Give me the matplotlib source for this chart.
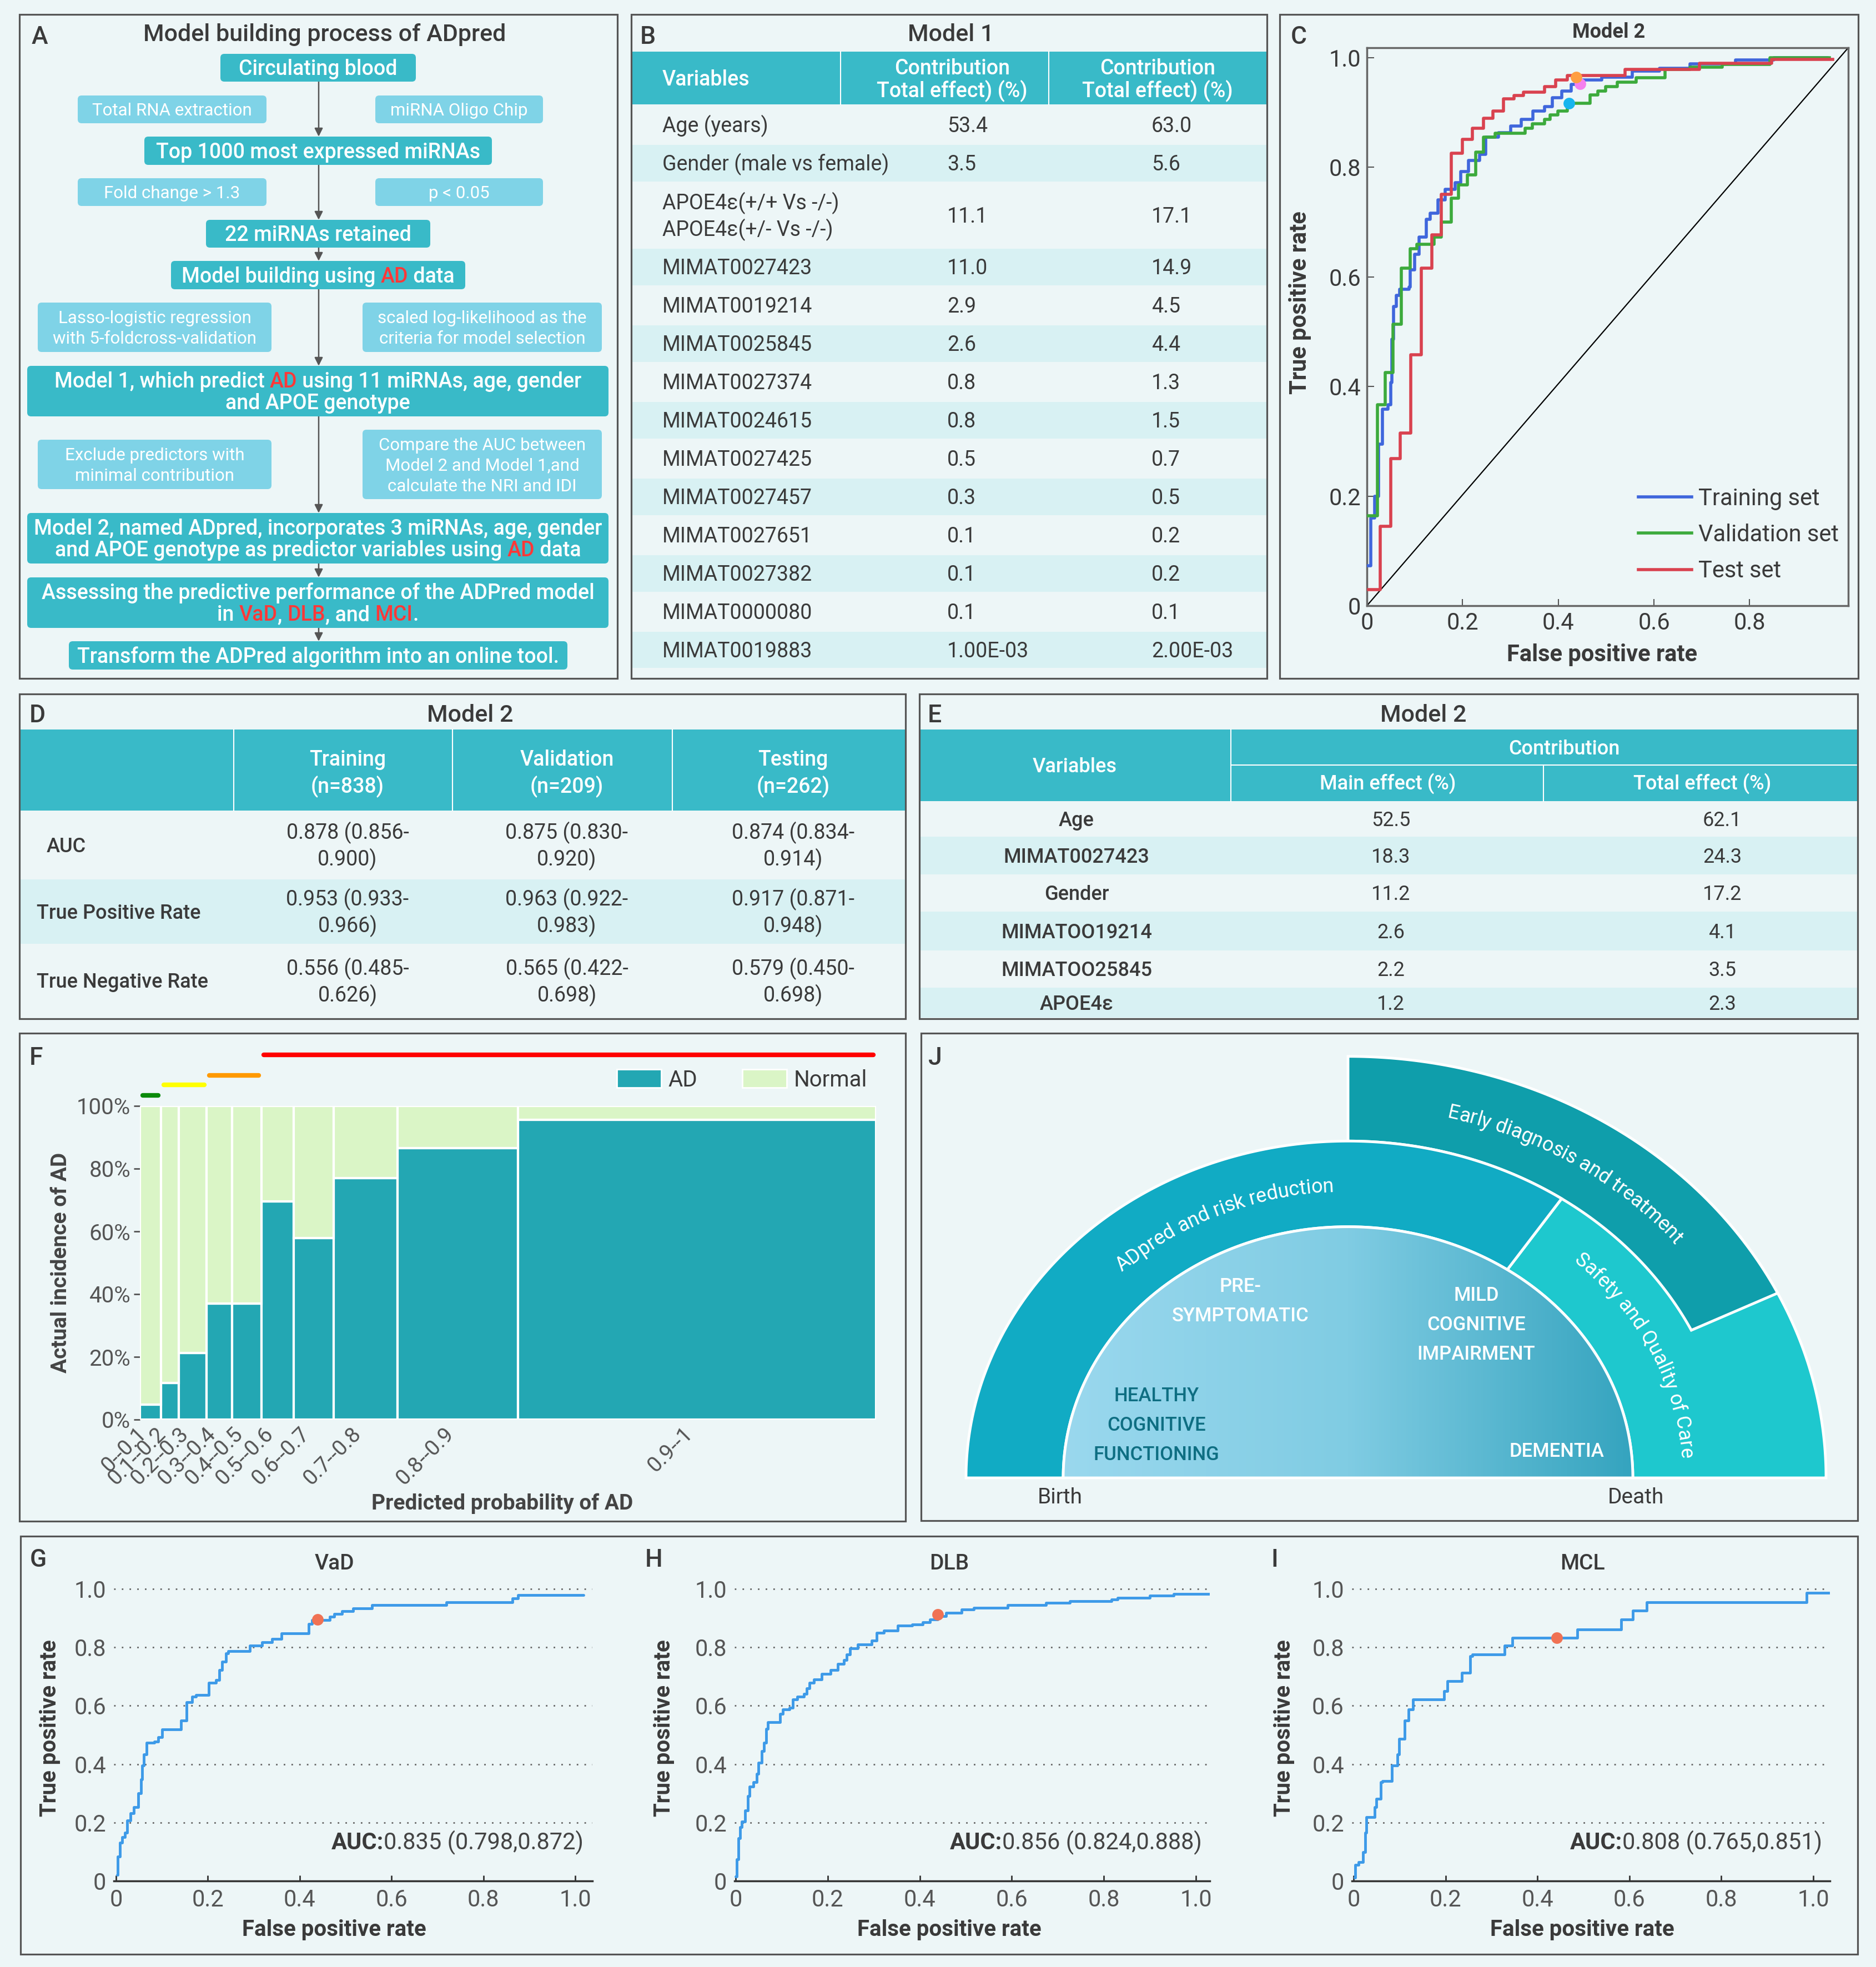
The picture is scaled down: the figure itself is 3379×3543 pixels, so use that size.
import re
import numpy as np
import matplotlib
matplotlib.use('Agg')
import matplotlib.pyplot as plt
from matplotlib.patches import Rectangle, FancyBboxPatch, Polygon, Patch
from matplotlib.colors import LinearSegmentedColormap
from matplotlib.transforms import ScaledTranslation

# ============================ DATA ============================
A_TITLE = 'Model building process of ADpred'
A_STEPS = [
    'Circulating blood',
    'Top 1000 most expressed miRNAs',
    '22 miRNAs retained',
    'Model building using [AD] data',
    'Model 1, which predict [AD] using 11 miRNAs, age, gender\nand APOE genotype',
    'Model 2, named ADpred, incorporates 3 miRNAs, age, gender\nand APOE genotype as predictor variables using [AD] data',
    'Assessing the predictive performance of the ADPred model\nin [VaD], [DLB], and [MCI].',
    'Transform the ADPred algorithm into an online tool.',
]
A_NOTES_LEFT = ['Total RNA extraction', 'Fold change > 1.3',
                'Lasso-logistic regression\nwith 5-foldcross-validation',
                'Exclude predictors with\nminimal contribution']
A_NOTES_RIGHT = ['miRNA Oligo Chip', 'p < 0.05',
                 'scaled log-likelihood as the\ncriteria for model selection',
                 'Compare the AUC between\nModel 2 and Model 1,and\ncalculate the NRI and IDI']

B_TITLE = 'Model 1'
B_HEADERS = ['Variables', 'Contribution\nTotal effect) (%)', 'Contribution\nTotal effect) (%)']
B_VARIABLES = ['Age (years)', 'Gender (male vs female)', 'APOE4ε(+/+ Vs -/-)\nAPOE4ε(+/- Vs -/-)',
               'MIMAT0027423', 'MIMAT0019214', 'MIMAT0025845', 'MIMAT0027374', 'MIMAT0024615',
               'MIMAT0027425', 'MIMAT0027457', 'MIMAT0027651', 'MIMAT0027382', 'MIMAT0000080',
               'MIMAT0019883']
B_EFFECT_1 = ['53.4', '3.5', '11.1', '11.0', '2.9', '2.6', '0.8', '0.8', '0.5', '0.3', '0.1', '0.1',
              '0.1', '1.00E-03']
B_EFFECT_2 = ['63.0', '5.6', '17.1', '14.9', '4.5', '4.4', '1.3', '1.5', '0.7', '0.5', '0.2', '0.2',
              '0.1', '2.00E-03']

C_TITLE = 'Model 2'
C_TRAIN_FPR = [0.002, 0.008, 0.016, 0.024, 0.032, 0.044, 0.05, 0.052, 0.056, 0.062, 0.068, 0.088, 0.09,
               0.1, 0.109, 0.124, 0.132, 0.148, 0.164, 0.184, 0.196, 0.212, 0.236, 0.248, 0.275, 0.3,
               0.323, 0.347, 0.371, 0.387, 0.407, 0.427, 0.451, 0.491, 0.555, 0.611, 0.675, 0.77, 0.85,
               0.962]
C_TRAIN_TPR = [0.073, 0.16, 0.2, 0.295, 0.359, 0.367, 0.407, 0.486, 0.546, 0.566, 0.577, 0.581, 0.613,
               0.641, 0.673, 0.705, 0.716, 0.74, 0.76, 0.772, 0.792, 0.812, 0.824, 0.855, 0.863, 0.875,
               0.887, 0.903, 0.911, 0.927, 0.939, 0.951, 0.959, 0.964, 0.975, 0.981, 0.989, 0.996, 1.0,
               1.0]
C_VAL_FPR = [0.0, 0.022, 0.038, 0.054, 0.072, 0.09, 0.105, 0.14, 0.156, 0.176, 0.192, 0.21, 0.228,
             0.244, 0.268, 0.314, 0.331, 0.346, 0.371, 0.383, 0.399, 0.419, 0.467, 0.483, 0.499, 0.523,
             0.563, 0.623, 0.675, 0.743, 0.842, 0.966]
C_VAL_TPR = [0.164, 0.367, 0.425, 0.514, 0.616, 0.651, 0.659, 0.673, 0.7, 0.744, 0.768, 0.786, 0.828,
             0.855, 0.862, 0.862, 0.871, 0.879, 0.887, 0.895, 0.903, 0.917, 0.932, 0.939, 0.947, 0.955,
             0.963, 0.979, 0.983, 0.988, 1.0, 1.0]
C_TEST_FPR = [0.004, 0.028, 0.05, 0.07, 0.092, 0.114, 0.136, 0.156, 0.176, 0.199, 0.221, 0.244, 0.263,
              0.285, 0.307, 0.327, 0.371, 0.395, 0.419, 0.539, 0.695, 0.846, 0.974]
C_TEST_TPR = [0.029, 0.145, 0.268, 0.315, 0.458, 0.616, 0.677, 0.751, 0.826, 0.851, 0.871, 0.889, 0.903,
              0.925, 0.931, 0.937, 0.947, 0.959, 0.967, 0.979, 0.99, 0.997, 0.997]
C_LABELS = ['Training set', 'Validation set', 'Test set']
C_CUTOFFS = [(0.445, 0.952), (0.422, 0.917), (0.437, 0.964)]   # train, validation, test

D_TITLE = 'Model 2'
D_COLUMNS = ['Training\n(n=838)', 'Validation\n(n=209)', 'Testing\n(n=262)']
D_ROWS = ['AUC', 'True Positive Rate', 'True Negative Rate']
D_VALUES = [['0.878 (0.856-\n0.900)', '0.875 (0.830-\n0.920)', '0.874 (0.834-\n0.914)'],
            ['0.953 (0.933-\n0.966)', '0.963 (0.922-\n0.983)', '0.917 (0.871-\n0.948)'],
            ['0.556 (0.485-\n0.626)', '0.565 (0.422-\n0.698)', '0.579 (0.450-\n0.698)']]

E_TITLE = 'Model 2'
E_VARIABLES = ['Age', 'MIMAT0027423', 'Gender', 'MIMATOO19214', 'MIMATOO25845', 'APOE4ε']
E_MAIN = ['52.5', '18.3', '11.2', '2.6', '2.2', '1.2']
E_TOTAL = ['62.1', '24.3', '17.2', '4.1', '3.5', '2.3']

F_BINS = ['0--0.1', '0.1--0.2', '0.2--0.3', '0.3--0.4', '0.4--0.5', '0.5--0.6', '0.6--0.7',
          '0.7--0.8', '0.8--0.9', '0.9--1']
F_COUNTS = [24, 20, 32, 29, 33, 37, 45, 73, 137, 407]
F_AD_RATE = [0.048, 0.116, 0.213, 0.37, 0.37, 0.695, 0.579, 0.77, 0.866, 0.955]
F_RISK_GROUPS = [(0, 1), (1, 3), (3, 5), (5, 10)]   # bin index ranges of the risk bars

J_RINGS = ['ADpred and risk reduction', 'Early diagnosis and treatment', 'Safety and Quality of Care']
J_STAGES = ['HEALTHY\nCOGNITIVE\nFUNCTIONING', 'PRE-\nSYMPTOMATIC', 'MILD\nCOGNITIVE\nIMPAIRMENT', 'DEMENTIA']

G_FPR = [0.002, 0.004, 0.009, 0.013, 0.019, 0.024, 0.031, 0.039, 0.048, 0.054, 0.057, 0.061, 0.067,
         0.083, 0.092, 0.1, 0.135, 0.141, 0.153, 0.166, 0.174, 0.199, 0.202, 0.218, 0.225, 0.231, 0.24,
         0.244, 0.288, 0.292, 0.318, 0.34, 0.36, 0.414, 0.42, 0.427, 0.466, 0.475, 0.492, 0.516, 0.558,
         0.719, 0.863, 0.876, 1.018]
G_TPR = [0.021, 0.084, 0.132, 0.151, 0.165, 0.208, 0.232, 0.252, 0.3, 0.348, 0.396, 0.434, 0.473,
         0.477, 0.492, 0.519, 0.519, 0.549, 0.612, 0.631, 0.636, 0.636, 0.679, 0.689, 0.722, 0.751, 0.78,
         0.787, 0.787, 0.807, 0.818, 0.828, 0.847, 0.847, 0.881, 0.893, 0.905, 0.914, 0.924, 0.934, 0.945,
         0.955, 0.967, 0.979, 0.979]
G_CUT = (0.439, 0.895)
G_AUC = '0.835 (0.798,0.872)'

H_FPR = [0.0, 0.003, 0.006, 0.01, 0.013, 0.02, 0.026, 0.03, 0.039, 0.046, 0.05, 0.057, 0.061, 0.066,
         0.07, 0.091, 0.096, 0.103, 0.117, 0.124, 0.134, 0.148, 0.155, 0.161, 0.17, 0.187, 0.206, 0.222,
         0.235, 0.241, 0.248, 0.265, 0.296, 0.306, 0.322, 0.352, 0.383, 0.406, 0.422, 0.439, 0.457,
         0.491, 0.517, 0.591, 0.674, 0.726, 0.817, 0.83, 0.9, 0.952, 1.041]
H_TPR = [0.016, 0.074, 0.146, 0.184, 0.204, 0.242, 0.29, 0.324, 0.338, 0.367, 0.405, 0.444, 0.473,
         0.521, 0.543, 0.543, 0.573, 0.588, 0.593, 0.622, 0.631, 0.641, 0.66, 0.679, 0.691, 0.71, 0.722,
         0.744, 0.756, 0.775, 0.796, 0.809, 0.823, 0.849, 0.857, 0.874, 0.879, 0.886, 0.895, 0.907,
         0.919, 0.929, 0.936, 0.945, 0.953, 0.958, 0.963, 0.97, 0.977, 0.982, 0.982]
H_CUT = (0.439, 0.912)
H_AUC = '0.856 (0.824,0.888)'

I_FPR = [0.002, 0.004, 0.011, 0.021, 0.025, 0.028, 0.046, 0.05, 0.059, 0.063, 0.083, 0.095, 0.099,
         0.111, 0.12, 0.129, 0.197, 0.204, 0.235, 0.254, 0.259, 0.329, 0.346, 0.487, 0.582, 0.607,
         0.638, 0.986, 1.037]
I_TPR = [0.012, 0.055, 0.064, 0.098, 0.165, 0.218, 0.252, 0.281, 0.338, 0.343, 0.396, 0.434, 0.487,
         0.549, 0.588, 0.622, 0.65, 0.684, 0.713, 0.77, 0.775, 0.807, 0.833, 0.862, 0.895, 0.926, 0.955,
         0.987, 0.987]
I_CUT = (0.442, 0.833)
I_AUC = '0.808 (0.765,0.851)'

ROC_TICKS = [0, 0.2, 0.4, 0.6, 0.8, 1.0]
ROC_TICK_LABELS = ['0', '0.2', '0.4', '0.6', '0.8', '1.0']

# ============================ STYLE ============================
BG = '#EDF6F7'
TINT = '#D8F1F3'
TEAL = '#39BAC8'
LIGHT = '#7FD3E7'
DARK = '#3A3A3A'
GRAY = '#555555'
BORDER = '#555555'
RED = '#FF3838'
PT = 100 / 72.0

plt.rcParams['font.family'] = ['Roboto', 'DejaVu Sans']

W, H = 3379, 3543
fig = plt.figure(figsize=(W / 100, H / 100), dpi=100)
fig.patch.set_facecolor(BG)
base = fig.add_axes([0, 0, 1, 1])
base.set_xlim(0, W)
base.set_ylim(H, 0)
base.axis('off')
R = fig.canvas.get_renderer()


def px_axes(x0, y0, x1, y1):
    ax = fig.add_axes([x0 / W, 1 - y1 / H, (x1 - x0) / W, (y1 - y0) / H])
    ax.set_facecolor('none')
    return ax


_wc = {}


def text_w(s, size, weight='normal'):
    key = (s, size, weight)
    if key not in _wc:
        t1 = base.text(0, 0, '|' + s + '|', fontsize=size, fontweight=weight)
        t2 = base.text(0, 0, '||', fontsize=size, fontweight=weight)
        _wc[key] = t1.get_window_extent(R).width - t2.get_window_extent(R).width
        t1.remove()
        t2.remove()
    return _wc[key]


def baseline(cy, size):
    return cy + 0.355 * size * PT


def rich_line(x, cy, parts, size, ha='center', z=5):
    y = baseline(cy, size)
    if len(parts) == 1:
        s, c, wgt = parts[0]
        base.text(x, y, s, color=c, fontsize=size, fontweight=wgt, ha=ha, va='baseline', zorder=z)
        return
    widths = [text_w(s, size, wgt) for s, c, wgt in parts]
    tot = sum(widths)
    cur = x - tot / 2 if ha == 'center' else (x - tot if ha == 'right' else x)
    for (s, c, wgt), w in zip(parts, widths):
        base.text(cur, y, s, color=c, fontsize=size, fontweight=wgt, ha='left', va='baseline', zorder=z)
        cur += w


def parse(line, color, weight, hi=RED):
    parts = []
    for tok in re.split(r'(\[[^\]]*\])', line):
        if not tok:
            continue
        if tok.startswith('['):
            parts.append((tok[1:-1], hi, weight))
        else:
            parts.append((tok, color, weight))
    return parts


def text_lines(x, cy, text, size, color=DARK, weight='normal', spacing=None, ha='center'):
    lines = text.split('\n')
    n = len(lines)
    if spacing is None:
        spacing = size * PT * 1.3
    for i, l in enumerate(lines):
        rich_line(x, cy + (i - (n - 1) / 2) * spacing, parse(l, color, weight), size, ha=ha)


def border(x0, y0, x1, y1):
    base.add_patch(Rectangle((x0, y0), x1 - x0, y1 - y0, fill=False, ec=BORDER, lw=2.3, zorder=10))


def letter(s, x, cy):
    base.text(x, baseline(cy, 32), s, fontsize=32, fontweight='medium', color=DARK, ha='left',
              va='baseline')


def rect(x0, y0, x1, y1, color, z=1):
    base.add_patch(Rectangle((x0, y0), x1 - x0, y1 - y0, fc=color, ec='none', zorder=z))


# ============================ PANEL A ============================
border(35, 26, 1112, 1222)
letter('A', 57, 63)
text_lines(585, 59, A_TITLE, 31, DARK, 'medium')
MAIN_BOXES = [(397, 97, 749, 147), (260, 246, 886, 297), (371, 396, 775, 446), (308, 470, 838, 521),
              (49, 659, 1096, 750), (49, 924, 1096, 1015), (49, 1040, 1096, 1131), (124, 1155, 1022, 1206)]
LEFT_BOXES = [(140, 172, 480, 222), (140, 321, 480, 371), (68, 545, 489, 634), (68, 792, 489, 881)]
RIGHT_BOXES = [(676, 172, 978, 222), (676, 321, 978, 371), (653, 545, 1084, 634), (653, 774, 1084, 899)]
AX_X = 574
for i in range(len(MAIN_BOXES) - 1):
    base.annotate('', xy=(AX_X, MAIN_BOXES[i + 1][1]), xytext=(AX_X, MAIN_BOXES[i][3]),
                  arrowprops=dict(arrowstyle='-|>', color='#555555', lw=1.8, mutation_scale=22,
                                  shrinkA=0, shrinkB=0), zorder=1)
for (x0, y0, x1, y1), txt in zip(MAIN_BOXES, A_STEPS):
    base.add_patch(FancyBboxPatch((x0, y0), x1 - x0, y1 - y0, boxstyle='round,pad=0,rounding_size=7',
                                  fc=TEAL, ec='none', zorder=2))
    text_lines((x0 + x1) / 2, (y0 + y1) / 2, txt, 27, 'white', 'medium', spacing=39)
for boxes, notes in ((LEFT_BOXES, A_NOTES_LEFT), (RIGHT_BOXES, A_NOTES_RIGHT)):
    for (x0, y0, x1, y1), txt in zip(boxes, notes):
        base.add_patch(FancyBboxPatch((x0, y0), x1 - x0, y1 - y0, boxstyle='round,pad=0,rounding_size=7',
                                      fc=LIGHT, ec='none', zorder=2))
        text_lines((x0 + x1) / 2, (y0 + y1) / 2, txt, 22.5, 'white', 'normal', spacing=37)

# ============================ PANEL B ============================
border(1137, 26, 2282, 1222)
letter('B', 1153, 63)
text_lines(1713, 59, B_TITLE, 31, DARK, 'medium')
rect(1138, 93, 2281, 188, TEAL)
for xv in (1514, 1889):
    base.plot([xv, xv], [93, 188], color='white', lw=1.5, zorder=2)
text_lines(1193, 141, B_HEADERS[0], 27, 'white', 'medium', ha='left')
text_lines(1715, 141, B_HEADERS[1], 27, 'white', 'medium', spacing=40)
text_lines(2085, 141, B_HEADERS[2], 27, 'white', 'medium', spacing=40)
B_ROW_Y = [188, 261, 327, 448, 514, 586, 652, 724, 790, 862, 928, 1000, 1066, 1138, 1203]
for i, (var, v1, v2) in enumerate(zip(B_VARIABLES, B_EFFECT_1, B_EFFECT_2)):
    y0, y1 = B_ROW_Y[i], B_ROW_Y[i + 1]
    if i % 2 == 1:
        rect(1138, y0, 2281, y1, TINT)
    cy = (y0 + y1) / 2
    text_lines(1193, cy, var, 27, DARK, 'normal', spacing=48, ha='left')
    text_lines(1706, cy, v1, 27, DARK, ha='left')
    text_lines(2074, cy, v2, 27, DARK, ha='left')

# ============================ PANEL C ============================
border(2305, 26, 3347, 1222)
letter('C', 2325, 63)
text_lines(2898, 55, C_TITLE, 26, DARK, 'bold')
axC = px_axes(2462, 86, 3329, 1091)
c_colors = ['#3F66DC', '#3CAA3C', '#D9424F']
for fpr, tpr, col, lab in ((C_TRAIN_FPR, C_TRAIN_TPR, c_colors[0], C_LABELS[0]),
                           (C_VAL_FPR, C_VAL_TPR, c_colors[1], C_LABELS[1]),
                           (C_TEST_FPR, C_TEST_TPR, c_colors[2], C_LABELS[2])):
    axC.plot(fpr, tpr, drawstyle='steps-post', color=col, lw=4, label=lab, zorder=3)
axC.plot([0, 1], [0, 1], transform=axC.transAxes, color='black', lw=1.6, zorder=2)
for (cx, cy), mc in zip(C_CUTOFFS, ['#F57FEE', '#17B5EE', '#FF9E42']):
    axC.plot(cx, cy, 'o', color=mc, ms=15, zorder=5, mec='none')
axC.set_xlim(0, 1.006)
axC.set_ylim(0, 1.018)
axC.set_xticks(ROC_TICKS[:-1])
axC.set_xticklabels(ROC_TICK_LABELS[:-1])
axC.set_yticks(ROC_TICKS)
axC.set_yticklabels(ROC_TICK_LABELS)
axC.tick_params(direction='in', length=9, width=1.5, color=GRAY, labelsize=30, labelcolor=DARK, pad=8)
for sp in axC.spines.values():
    sp.set_color('#666666')
    sp.set_linewidth(2.5)
axC.legend(loc='lower right', bbox_to_anchor=(1.0, 0.025), frameon=False, fontsize=30,
           handlelength=2.3, handletextpad=0.3, labelspacing=0.58, borderaxespad=0,
           labelcolor=DARK)
base.text(2342, 545, 'True positive rate', rotation=90, ha='center', va='center', fontsize=30,
          fontweight='bold', color=DARK)
text_lines(2885, 1176, 'False positive rate', 30, DARK, 'bold')

# ============================ PANEL D ============================
border(35, 1250, 1631, 1835)
letter('D', 53, 1285)
text_lines(847, 1285, D_TITLE, 31, DARK, 'medium')
rect(36, 1314, 1630, 1460, TEAL)
D_COL_X = [36, 421, 815, 1211, 1630]
for xv in D_COL_X[1:-1]:
    base.plot([xv, xv], [1314, 1460], color='white', lw=1.5, zorder=2)
for j, col in enumerate(D_COLUMNS):
    text_lines((D_COL_X[j + 1] + D_COL_X[j + 2]) / 2 + 8, 1390, col, 27, 'white', 'medium', spacing=48)
D_ROW_Y = [1460, 1584, 1700, 1833]
for i, (lab, vals) in enumerate(zip(D_ROWS, D_VALUES)):
    y0, y1 = D_ROW_Y[i], D_ROW_Y[i + 1]
    if i % 2 == 1:
        rect(36, y0, 1630, y1, TINT)
    cy = (y0 + y1) / 2
    text_lines(84 if i == 0 else 66, cy, lab, 26, DARK, 'medium', ha='left')
    for j, v in enumerate(vals):
        text_lines((D_COL_X[j + 1] + D_COL_X[j + 2]) / 2 + 8, cy, v, 27, DARK, spacing=48)

# ============================ PANEL E ============================
border(1656, 1250, 3346, 1835)
letter('E', 1671, 1285)
text_lines(2564, 1285, E_TITLE, 31, DARK, 'medium')
rect(1657, 1314, 3345, 1443, TEAL)
base.plot([2217, 2217], [1314, 1443], color='white', lw=1.5, zorder=2)
base.plot([2217, 3345], [1378, 1378], color='white', lw=1.5, zorder=2)
base.plot([2780, 2780], [1378, 1443], color='white', lw=1.5, zorder=2)
text_lines(1936, 1378, 'Variables', 26, 'white', 'medium')
text_lines(2817, 1346, 'Contribution', 26, 'white', 'medium')
text_lines(2500, 1410, 'Main effect (%)', 26, 'white', 'medium')
text_lines(3066, 1410, 'Total effect (%)', 26, 'white', 'medium')
E_ROW_Y = [1443, 1507, 1575, 1642, 1712, 1779, 1833]
for i, (var, m, t) in enumerate(zip(E_VARIABLES, E_MAIN, E_TOTAL)):
    y0, y1 = E_ROW_Y[i], E_ROW_Y[i + 1]
    if i % 2 == 1:
        rect(1657, y0, 3345, y1, TINT)
    cy = (y0 + y1) / 2
    text_lines(1939, cy, var, 26, DARK, 'medium')
    text_lines(2505, cy, m, 26, DARK)
    text_lines(3102, cy, t, 26, DARK)

# ============================ PANEL F ============================
border(35, 1861, 1631, 2740)
letter('F', 53, 1902)
axF = px_axes(252, 1992, 1578, 2557)
counts = np.array(F_COUNTS, dtype=float)
rate = np.array(F_AD_RATE)
lefts = np.concatenate([[0], np.cumsum(counts)[:-1]])
centers = lefts + counts / 2
AD_C, N_C = '#23A7B3', '#DAF5C6'
axF.bar(lefts, rate, width=counts, align='edge', color=AD_C, edgecolor='white', linewidth=3,
        label='AD', zorder=2)
axF.bar(lefts, 1 - rate, bottom=rate, width=counts, align='edge', color=N_C, edgecolor='white',
        linewidth=3, label='Normal', zorder=2)
axF.set_xlim(0, counts.sum())
axF.set_ylim(0, 1)
axF.set_xticks(centers)
axF.set_xticklabels([])
lab_tr = axF.get_xaxis_transform() + ScaledTranslation(-0.26, 0, fig.dpi_scale_trans)
for c, lab in zip(centers, F_BINS):
    axF.text(c, -0.012, lab, transform=lab_tr, rotation=45, rotation_mode='anchor', ha='right',
             va='top', fontsize=28, color=GRAY, clip_on=False)
axF.set_yticks([0, 0.2, 0.4, 0.6, 0.8, 1.0])
axF.set_yticklabels(['0%', '20%', '40%', '60%', '80%', '100%'])
axF.tick_params(axis='x', length=0)
axF.tick_params(axis='y', length=8, width=2, color=GRAY, labelsize=29, labelcolor=GRAY, pad=4)
for sp in axF.spines.values():
    sp.set_visible(False)
risk_colors = ['#0A8A0A', '#FFFF00', '#FF9900', '#FF0000']
risk_y = [1.034, 1.067, 1.097, 1.163]
for (a, b), col, yy in zip(F_RISK_GROUPS, risk_colors, risk_y):
    axF.plot([lefts[a] + 3, lefts[b - 1] + counts[b - 1] - 3], [yy, yy], color=col, lw=6,
             solid_capstyle='round', clip_on=False)
axF.legend(handles=[Patch(fc=AD_C, ec='white', lw=2, label='AD'), Patch(fc=N_C, ec='white', lw=2,
                                                                      label='Normal')],
           loc='lower right', bbox_to_anchor=(1.0, 1.02), ncol=2, frameon=False, fontsize=29,
           handlelength=2.0, handleheight=0.9, handletextpad=0.3, columnspacing=2.0, borderaxespad=0,
           labelcolor=DARK)
base.text(110, 2274, 'Actual incidence of AD', rotation=90, ha='center', va='center', fontsize=28,
          fontweight='bold', color='#444444')
text_lines(905, 2705, 'Predicted probability of AD', 28, '#444444', 'bold')

# ============================ PANEL J ============================
border(1659, 1861, 3346, 2739)
letter('J', 1672, 1902)
JX, JY = 2428, 2662
K = 1.134  # horizontal / vertical radius ratio


def ring(rx0, rx1, a0, a1, n=300):
    th = np.radians(np.linspace(a0, a1, n))
    outer = np.c_[JX + rx1 * np.cos(th), JY - rx1 / K * np.sin(th)]
    if rx0 == 0:
        inner = np.array([[JX, JY]])
    else:
        inner = np.c_[JX + rx0 * np.cos(th[::-1]), JY - rx0 / K * np.sin(th[::-1])]
    return np.vstack([outer, inner])


R_IN, R_MID, R_OUT = 513, 688, 861
base.add_patch(Polygon(ring(R_IN, R_OUT, 0, 56), closed=True, fc='#1EC8CE', ec='white', lw=3.5, zorder=2))
base.add_patch(Polygon(ring(R_MID, R_OUT, 26, 90), closed=True, fc='#0F9EAB', ec='white', lw=3.5, zorder=3))
base.add_patch(Polygon(ring(R_IN, R_MID, 56, 180), closed=True, fc='#11ABC4', ec='white', lw=3.5, zorder=3))
semi = Polygon(ring(0, R_IN, 0, 180), closed=True, fc='none', ec='white', lw=3.5, zorder=5)
base.add_patch(semi)
cmap = LinearSegmentedColormap.from_list('g', ['#9AD8EE', '#80CCE3', '#35A4BF'])
im = base.imshow(np.linspace(0, 1, 256)[None, :], extent=(JX - R_IN, JX + R_IN, JY, JY - R_IN / K),
                 cmap=cmap, aspect='auto', zorder=4, interpolation='bilinear')
im.set_clip_path(semi)
base.set_xlim(0, W)
base.set_ylim(H, 0)


def arc_text(text, rx, theta_c, size, color='white', weight='normal'):
    ry = rx / K
    ths = np.radians(np.linspace(-10, 190, 4001))
    ds = np.hypot(rx * np.sin(ths), ry * np.cos(ths))
    s = np.concatenate([[0], np.cumsum((ds[1:] + ds[:-1]) / 2 * np.diff(ths))])
    widths = [text_w(c, size, weight) for c in text]
    L = sum(widths)
    pos = np.interp(np.radians(theta_c), ths, s) + L / 2
    for c, w in zip(text, widths):
        th = np.interp(pos - w / 2, s, ths)
        x = JX + rx * np.cos(th)
        y = JY - ry * np.sin(th)
        rot = np.degrees(np.arctan2(-ry * np.cos(th), rx * np.sin(th)))
        base.text(x, y, c, rotation=rot, rotation_mode='anchor', ha='center', va='baseline',
                  fontsize=size, color=color, fontweight=weight, zorder=8)
        pos -= w


arc_text(J_RINGS[0], 585, 113, 26)
arc_text(J_RINGS[1], 757, 58, 26)
arc_text(J_RINGS[2], 600, 26, 26)
text_lines(2083, 2565, J_STAGES[0], 25, '#0E6E82', 'medium', spacing=53)
text_lines(2234, 2341, J_STAGES[1], 25, 'white', 'medium', spacing=53)
text_lines(2659, 2384, J_STAGES[2], 25, 'white', 'medium', spacing=53)
text_lines(2804, 2612, J_STAGES[3], 25, 'white', 'medium')
text_lines(1909, 2694, 'Birth', 28, DARK)
text_lines(2946, 2694, 'Death', 28, DARK)

# ============================ PANELS G / H / I ============================
border(37, 2767, 3346, 3520)


def small_roc(x0, unit_x, xlim, fpr, tpr, cut, title, auc, lab, lab_x, ylab_x, title_x, auc_x):
    y0, unit_y, ylim = 3388, 526, (0, 1.06)
    ax = px_axes(x0 + xlim[0] * unit_x, y0 - ylim[1] * unit_y, x0 + xlim[1] * unit_x, y0)
    ax.plot(fpr, tpr, drawstyle='steps-post', color='#3D9AE8', lw=3.5, zorder=3,
            solid_capstyle='round')
    ax.plot(cut[0], cut[1], 'o', color='#F07254', ms=15, mec='none', zorder=4)
    ax.set_xlim(*xlim)
    ax.set_ylim(*ylim)
    ax.set_xticks(ROC_TICKS)
    ax.set_xticklabels(ROC_TICK_LABELS)
    ax.set_yticks(ROC_TICKS)
    ax.set_yticklabels(ROC_TICK_LABELS)
    ax.yaxis.grid(True, linestyle=(0, (1, 4)), color='#666666', lw=2)
    ax.set_axisbelow(True)
    ax.tick_params(axis='y', length=0, labelsize=30, labelcolor=GRAY, pad=10)
    ax.tick_params(axis='x', direction='in', length=7, width=2, color='#333333', labelsize=30,
                   labelcolor=GRAY, pad=10)
    for k in ('top', 'right', 'left'):
        ax.spines[k].set_visible(False)
    ax.spines['bottom'].set_color('#333333')
    ax.spines['bottom'].set_linewidth(2.5)
    letter(lab, lab_x, 2806)
    text_lines(title_x, 2813, title, 28, DARK, 'medium')
    text_lines(title_x, 3473, 'False positive rate', 29, DARK, 'bold')
    base.text(ylab_x, 3113, 'True positive rate', rotation=90, ha='center', va='center', fontsize=29,
              fontweight='bold', color=DARK)
    rich_line(auc_x, 3316, [('AUC:', DARK, 'bold'), (auc, '#444444', 'normal')], 30, ha='right')


small_roc(209, 827, (-0.005, 1.037), G_FPR, G_TPR, G_CUT, 'VaD', G_AUC, 'G', 54, 90, 602, 1051)
small_roc(1325, 829, (-0.002, 1.03), H_FPR, H_TPR, H_CUT, 'DLB', H_AUC, 'H', 1162, 1196, 1710, 2165)
small_roc(2438, 828, (-0.004, 1.036), I_FPR, I_TPR, I_CUT, 'MCL', I_AUC, 'I', 2289, 2313, 2850, 3282)

fig.savefig('out.png', dpi=100, facecolor=BG)
